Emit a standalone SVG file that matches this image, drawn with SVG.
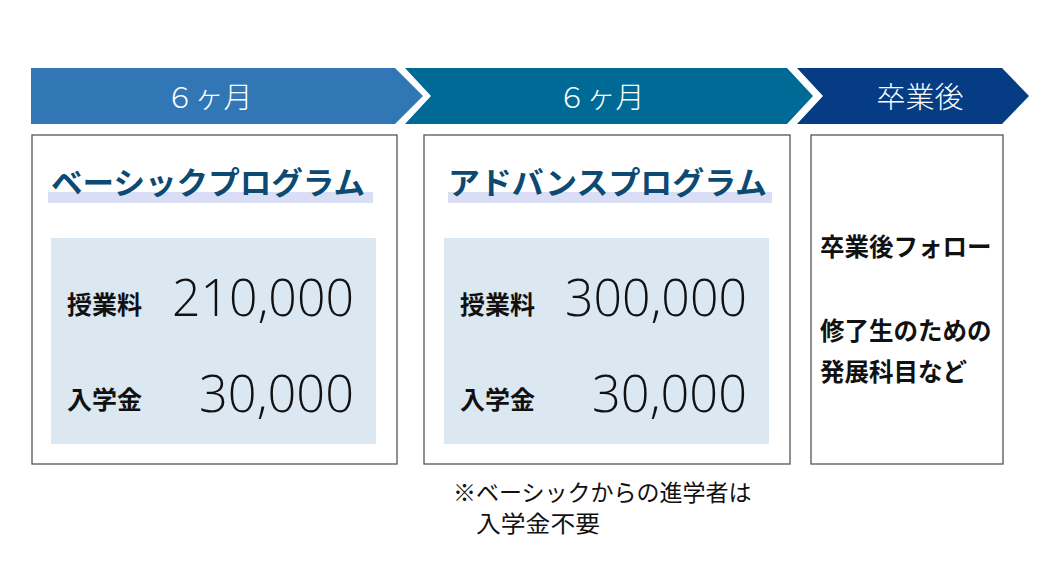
<svg xmlns="http://www.w3.org/2000/svg" width="1039" height="563" viewBox="0 0 1039 563">
<style>
.jp{font-family:"Noto Sans CJK JP","Noto Sans",sans-serif;}
.hdr{font-family:"Noto Sans CJK JP","Noto Sans",sans-serif;font-size:29px;fill:#fff;text-anchor:middle;font-weight:300;}
.box{fill:#fff;stroke:#555;stroke-width:1.3;}
.inner{fill:#DBE7F1;}
.band{fill:#D9DEF4;}
.title{font-family:"Noto Sans CJK JP","Noto Sans",sans-serif;font-size:31px;font-weight:700;fill:#0C4A74;}
.lbl{font-family:"Noto Sans CJK JP","Noto Sans",sans-serif;font-size:25px;font-weight:700;fill:#111;}
.num{font-family:"Open Sans","Noto Sans",sans-serif;font-size:51px;font-weight:350;fill:#111;text-anchor:end;}
.side{font-family:"Noto Sans CJK JP","Noto Sans",sans-serif;font-size:24.5px;font-weight:700;fill:#111;}
.note{font-family:"Noto Sans CJK JP","Noto Sans",sans-serif;font-size:23px;fill:#111;}
</style>
<rect width="1039" height="563" fill="#fff"/>
<g id="connectors"></g>
<g id="header1">
<polygon points="31,68 395,68 423,96 395,124 31,124" fill="#3176B5"/>
<text class="hdr" x="209" y="108">６ヶ月</text>
</g>
<g id="header2">
<polygon points="405,68 787,68 813,96 787,124 405,124 431,96" fill="#006A96"/>
<text class="hdr" x="601" y="108">６ヶ月</text>
</g>
<g id="header3">
<polygon points="797,68 1002,68 1029,96 1002,124 797,124 823,96" fill="#053C84"/>
<text class="hdr" x="920" y="108">卒業後</text>
</g>
<g id="basic">
<rect class="box" x="32" y="135" width="365" height="329"/>
<rect class="band" x="48" y="192" width="325" height="11"/>
<text class="title" x="51" y="194" textLength="314" lengthAdjust="spacingAndGlyphs">ベーシックプログラム</text>
<rect class="inner" x="51" y="238" width="325" height="206"/>
<text class="lbl" x="67" y="314">授業料</text>
<text class="num" x="354" y="316" textLength="182" lengthAdjust="spacingAndGlyphs">210,000</text>
<text class="lbl" x="67" y="409">入学金</text>
<text class="num" x="354" y="412" textLength="155" lengthAdjust="spacingAndGlyphs">30,000</text>
</g>
<g id="advanced">
<rect class="box" x="424" y="135" width="366" height="329"/>
<rect class="band" x="448" y="192" width="324" height="11"/>
<text class="title" x="448" y="194" textLength="319" lengthAdjust="spacingAndGlyphs">アドバンスプログラム</text>
<rect class="inner" x="444" y="238" width="325" height="206"/>
<text class="lbl" x="460" y="314">授業料</text>
<text class="num" x="747" y="316" textLength="182" lengthAdjust="spacingAndGlyphs">300,000</text>
<text class="lbl" x="460" y="409">入学金</text>
<text class="num" x="747" y="412" textLength="155" lengthAdjust="spacingAndGlyphs">30,000</text>
</g>
<g id="after">
<rect class="box" x="811" y="135" width="192" height="329"/>
<text class="side" x="820" y="256">卒業後フォロー</text>
<text class="side" x="820" y="340">修了生のための</text>
<text class="side" x="820" y="381">発展科目など</text>
</g>
<g id="note">
<text class="note" x="453" y="501">※ベーシックからの進学者は</text>
<text class="note" x="476" y="532" textLength="124" lengthAdjust="spacingAndGlyphs">入学金不要</text>
</g>
</svg>
